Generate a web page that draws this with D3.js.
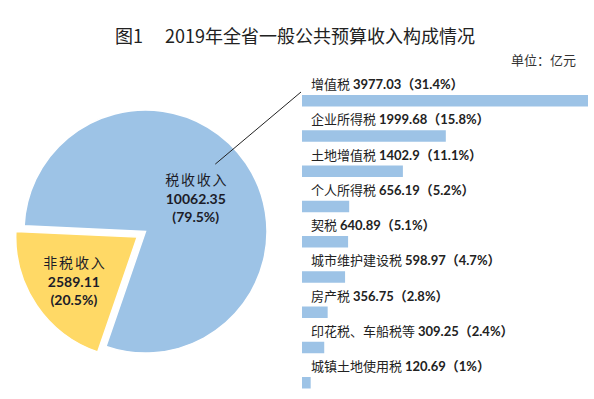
<!DOCTYPE html>
<html>
<head>
<meta charset="utf-8">
<script src="https://cdn.jsdelivr.net/npm/d3@7"></script>
<style>
  body { margin: 0; background: #fff; }
  svg { display: block; }
  .cjk { font-family: "Noto Sans CJK SC", sans-serif; }
  .num { font-family: "Lato", "Noto Sans CJK SC", sans-serif; font-weight: bold; }
</style>
</head>
<body>
<svg id="chart"></svg>
<script>
(function () {
    const pieNames = ['非税收入', '税收收入'];
    const pieValues = [2589.11, 10062.35];
    const piePcts = ['20.5%', '79.5%'];

    const taxNames = ['增值税', '企业所得税', '土地增值税', '个人所得税', '契税',
        '城市维护建设税', '房产税', '印花税、车船税等', '城镇土地使用税'];
    const taxValues = [3977.03, 1999.68, 1402.9, 656.19, 640.89, 598.97, 356.75, 309.25, 120.69];
    const taxPcts = ['31.4%', '15.8%', '11.1%', '5.2%', '5.1%', '4.7%', '2.8%', '2.4%', '1%'];

    const width = 594;
    const height = 399;
    const deg = Math.PI / 180;

    const svg = d3.select('#chart')
        .attr('width', width)
        .attr('height', height);

    // title + unit
    svg.append('text')
        .attr('class', 'cjk')
        .attr('x', 295)
        .attr('y', 43)
        .attr('text-anchor', 'middle')
        .attr('font-size', 18)
        .attr('fill', '#222')
        .text('图1\u3000 2019年全省一般公共预算收入构成情况');

    svg.append('text')
        .attr('class', 'cjk')
        .attr('x', 576)
        .attr('y', 65)
        .attr('text-anchor', 'end')
        .attr('font-size', 13)
        .attr('fill', '#333')
        .text('单位：亿元');

    // pie
    const cx = 145.5, cy = 231.5, r = 121.5;
    const pieData = pieNames.map((d, i) => ({ name: d, value: pieValues[i], pct: piePcts[i] }));
    const colors = ['#FFD966', '#9DC3E6'];

    const pie = d3.pie()
        .sort(null)
        .value(d => d.value)
        .startAngle(199 * deg)
        .endAngle(559 * deg);

    const arc = d3.arc().innerRadius(0).outerRadius(r);
    const arcs = pie(pieData);

    const g = svg.append('g').attr('transform', `translate(${cx},${cy})`);

    const slices = g.selectAll('g.slice')
        .data(arcs)
        .join('g')
        .attr('class', 'slice')
        .attr('transform', (d, i) => {
            if (i !== 0) return null;
            const mid = (d.startAngle + d.endAngle) / 2;
            const [ox, oy] = d3.pointRadial(mid, 10);
            return `translate(${ox},${oy})`;
        });

    slices.append('path')
        .attr('d', arc)
        .attr('fill', (d, i) => colors[i])
        .attr('stroke', '#fff')
        .attr('stroke-width', 1.5);

    const labelRadius = [0.63 * r, 0.5 * r];
    slices.each(function (d, i) {
        const mid = (d.startAngle + d.endAngle) / 2;
        const [lx, ly] = d3.pointRadial(mid, labelRadius[i]);
        const t = d3.select(this).append('text')
            .attr('text-anchor', 'middle')
            .attr('fill', '#1c1c28');
        t.append('tspan')
            .attr('class', 'cjk')
            .attr('font-size', 14)
            .attr('letter-spacing', 1.8)
            .attr('x', lx + 1).attr('y', ly - 12)
            .text(d.data.name);
        t.append('tspan')
            .attr('class', 'num')
            .attr('font-size', 14)
            .attr('x', lx).attr('y', ly + 7)
            .text(d.data.value.toFixed(2));
        t.append('tspan')
            .attr('class', 'num')
            .attr('font-size', 14)
            .attr('x', lx).attr('y', ly + 25)
            .text('(' + d.data.pct + ')');
    });

    // bars
    const barX = d3.scaleLinear()
        .domain([0, d3.max(taxValues)])
        .range([302, 588]);

    const step = 35.25;
    const inner = 0.674;
    const barY = d3.scaleBand()
        .domain(taxNames)
        .range([95, 95 + step * (taxNames.length - inner)])
        .paddingInner(inner)
        .paddingOuter(0);

    const rows = svg.selectAll('g.row')
        .data(taxNames.map((d, i) => ({ name: d, value: taxValues[i], pct: taxPcts[i] })))
        .join('g')
        .attr('class', 'row');

    rows.append('rect')
        .attr('x', barX(0))
        .attr('y', d => barY(d.name))
        .attr('width', d => barX(d.value) - barX(0))
        .attr('height', barY.bandwidth())
        .attr('fill', '#9DC3E6');

    const labels = rows.append('text')
        .attr('x', barX(0) + 9)
        .attr('y', d => barY(d.name) - 6)
        .attr('font-size', 13)
        .attr('fill', '#222');
    labels.append('tspan')
        .attr('class', 'cjk')
        .text(d => d.name + ' ');
    labels.append('tspan')
        .attr('class', 'num')
        .text(d => d.value + '（' + d.pct + '）');

    // leader line from tax-income slice to the bar list
    const [sx, sy] = d3.pointRadial(46 * deg, 97);
    svg.append('line')
        .attr('x1', cx + sx)
        .attr('y1', cy + sy)
        .attr('x2', barX(0) - 1)
        .attr('y2', barY(taxNames[0]) - 3)
        .attr('stroke', '#222')
        .attr('stroke-width', 1);
})();
</script>
</body>
</html>
